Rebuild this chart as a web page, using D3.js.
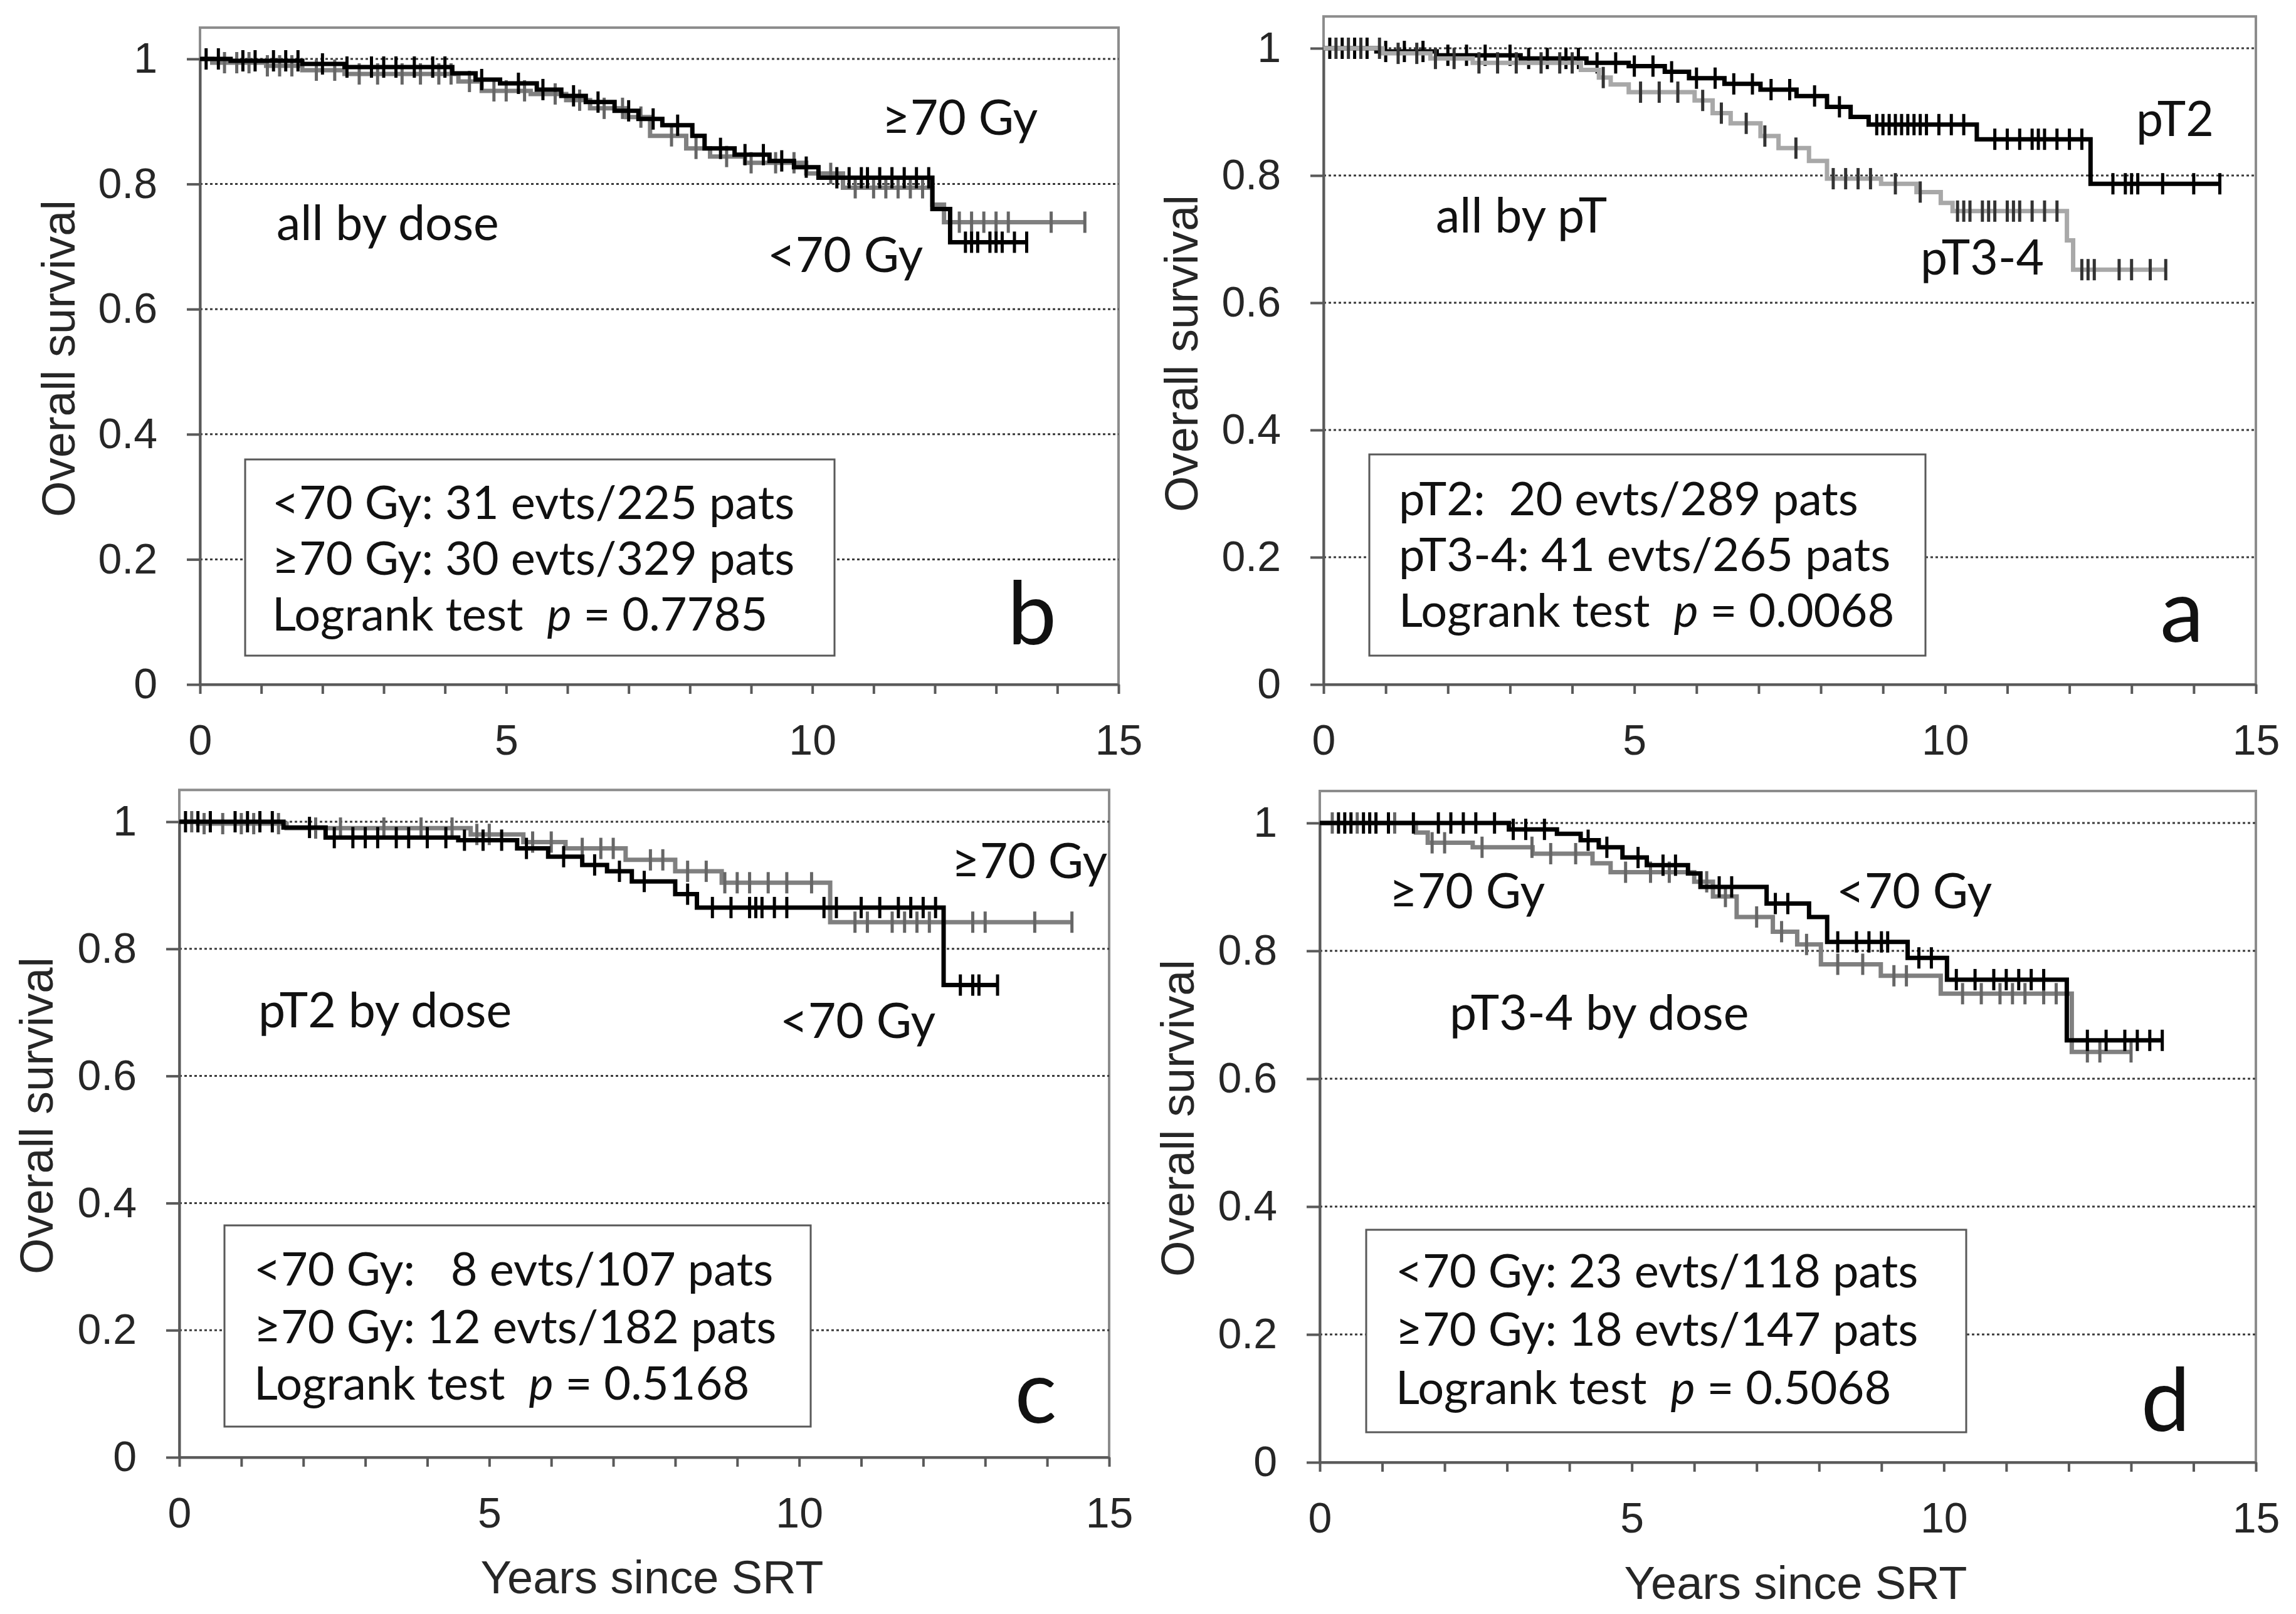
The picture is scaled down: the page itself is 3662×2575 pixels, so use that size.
<!DOCTYPE html>
<html>
<head>
<meta charset="utf-8">
<script src="https://cdn.jsdelivr.net/npm/d3@7"></script>
<style>
  body { margin: 0; background: #fff; }
  text { white-space: pre; }
</style>
</head>
<body>
<script>
// ---- data ----
const xTicks = d3.range(0, 16);
const xLabels = [0, 5, 10, 15];
const yTicks = [0, 0.2, 0.4, 0.6, 0.8, 1];

// panel b: all patients by dose
const bLowSteps = [[0,1],[0.5,0.997],[1.67,0.992],[2.36,0.987],[4.12,0.977],[4.5,0.967],[4.9,0.961],[5.5,0.951],[5.9,0.941],[6.3,0.931],[6.77,0.917],[7.16,0.904],[7.55,0.894],[8.04,0.877],[8.24,0.857],[8.73,0.847],[9.3,0.837],[9.7,0.827],[10.1,0.81],[11.96,0.76],[12.25,0.707],[13.5,0.707]];
const bLowCens = [0.1,0.3,0.7,0.9,1.2,1.4,1.6,2.0,2.4,2.8,3.0,3.2,3.5,3.8,4.0,4.6,5.2,5.6,6.1,6.5,7.0,7.4,7.8,8.5,8.9,9.2,9.5,9.9,10.4,10.6,10.8,10.9,11.1,11.3,11.5,11.7,11.9,12.5,12.6,12.7,12.9,13.0,13.1,13.3,13.5];
const bHighSteps = [[0,1],[0.2,0.994],[1.08,0.989],[1.67,0.982],[2.36,0.976],[4.22,0.964],[4.6,0.949],[5.4,0.944],[5.98,0.934],[6.37,0.921],[6.96,0.907],[7.35,0.877],[7.94,0.857],[8.33,0.844],[8.9,0.834],[9.9,0.817],[10.5,0.794],[11.96,0.767],[12.15,0.739],[14.45,0.739]];
const bHighCens = [0.4,0.6,0.8,1.1,1.3,1.5,1.9,2.2,2.6,2.9,3.3,3.6,3.9,4.1,4.4,4.8,5.0,5.3,5.8,6.2,6.6,6.9,7.2,7.7,8.1,8.6,9.0,9.4,9.7,10.3,10.7,11.0,11.2,11.4,11.6,11.8,12.4,12.6,12.8,13.0,13.2,13.9,14.45];

// panel a: all patients by pT
const aT2Steps = [[0,1],[0.85,0.995],[1.82,0.989],[3.17,0.984],[4.23,0.977],[4.91,0.972],[5.49,0.963],[5.88,0.953],[6.45,0.944],[7.03,0.935],[7.61,0.925],[8.1,0.908],[8.48,0.892],[8.77,0.88],[10.51,0.857],[12.34,0.787],[14.42,0.787]];
const aT2Cens = [0.1,0.3,0.5,0.7,1.0,1.3,1.6,2.0,2.3,2.6,3.0,3.3,3.6,3.9,4.1,4.4,4.7,5.0,5.3,5.6,6.0,6.3,6.6,6.9,7.2,7.5,7.9,8.3,8.9,9.0,9.1,9.2,9.3,9.4,9.5,9.6,9.7,9.9,10.1,10.3,10.8,11.0,11.2,11.4,11.5,11.6,11.8,12.0,12.2,12.7,12.9,13.0,13.1,13.5,14.0,14.42];
const aT34Steps = [[0,1],[0.95,0.992],[1.72,0.984],[2.4,0.977],[4.14,0.966],[4.43,0.954],[4.62,0.943],[4.91,0.931],[5.97,0.918],[6.26,0.898],[6.55,0.882],[7.03,0.862],[7.32,0.843],[7.81,0.823],[8.1,0.795],[8.97,0.787],[9.54,0.774],[9.93,0.757],[10.12,0.744],[11.96,0.698],[12.06,0.652],[13.55,0.652]];
const aT34Cens = [0.2,0.4,0.6,0.9,1.2,1.5,1.8,2.1,2.5,2.8,3.1,3.5,3.8,4.0,4.5,5.1,5.4,5.7,6.1,6.4,6.8,7.1,7.6,8.2,8.4,8.6,8.8,9.2,9.6,10.2,10.3,10.4,10.6,10.7,10.8,11.0,11.1,11.2,11.4,11.6,11.8,12.2,12.3,12.4,12.8,13.0,13.3,13.55];

// panel c: pT2 by dose
const cLowSteps = [[0,1],[1.68,0.991],[2.36,0.975],[4.5,0.971],[5.45,0.958],[5.95,0.945],[6.5,0.932],[6.9,0.922],[7.3,0.906],[8.0,0.886],[8.35,0.865],[12.33,0.743],[13.2,0.743]];
const cLowCens = [0.1,0.3,0.5,0.9,1.1,1.3,1.5,2.1,2.5,2.8,3.0,3.2,3.5,3.7,4.0,4.3,4.6,4.9,5.2,5.6,6.2,6.7,7.1,7.5,8.2,8.6,8.9,9.2,9.3,9.4,9.6,9.8,10.4,10.6,11.0,11.3,11.6,11.8,12.0,12.2,12.6,12.8,12.9,13.2];
const cHighSteps = [[0,1],[0.3,0.997],[1.73,0.99],[4.7,0.98],[5.55,0.968],[6.23,0.958],[7.2,0.94],[8.0,0.922],[8.75,0.904],[10.5,0.842],[14.4,0.842]];
const cHighCens = [0.2,0.4,0.7,1.0,1.2,1.6,2.2,2.6,3.3,3.9,4.4,4.8,5.0,5.7,6.0,6.5,6.8,7.0,7.6,7.8,8.2,8.5,8.8,9.0,9.2,9.5,9.8,10.2,10.9,11.1,11.5,11.7,11.9,12.1,12.8,13.0,13.8,14.4];

// panel d: pT3-4 by dose
const dLowSteps = [[0,1],[3.03,0.99],[3.8,0.983],[4.18,0.973],[4.47,0.962],[4.85,0.946],[5.24,0.934],[5.9,0.921],[6.1,0.9],[7.16,0.874],[7.84,0.853],[8.13,0.814],[9.42,0.789],[10.05,0.755],[11.97,0.66],[13.5,0.66]];
const dLowCens = [0.3,0.4,0.5,0.7,0.8,0.9,1.1,1.5,1.9,2.1,2.3,2.5,2.8,3.1,3.3,3.6,4.3,4.6,5.1,5.5,5.7,6.4,6.6,7.3,7.5,8.3,8.6,8.8,9.0,9.1,9.6,9.8,10.2,10.5,10.8,11.0,11.2,11.4,11.6,12.3,12.6,12.9,13.1,13.3,13.5];
const dHighSteps = [[0,1],[1.54,0.985],[1.73,0.969],[2.45,0.962],[3.41,0.952],[4.37,0.937],[4.66,0.923],[6.0,0.908],[6.3,0.885],[6.68,0.853],[7.26,0.83],[7.65,0.81],[8.03,0.779],[8.99,0.761],[9.95,0.733],[12.05,0.642],[13.0,0.642]];
const dHighCens = [0.2,0.6,1.2,1.8,2.0,2.6,3.4,3.7,4.1,4.9,5.3,5.6,6.2,6.5,7.0,7.4,7.8,8.3,8.7,9.2,9.4,10.3,10.6,10.9,11.1,11.3,11.6,11.8,12.3,12.5,13.0];

// legend texts: two count lines and the logrank p value
const bLegend = ["<70 Gy: 31 evts/225 pats", "\u226570 Gy: 30 evts/329 pats", "0.7785"];
const aLegend = ["pT2:  20 evts/289 pats", "pT3-4: 41 evts/265 pats", "0.0068"];
const cLegend = ["<70 Gy:   8 evts/107 pats", "\u226570 Gy: 12 evts/182 pats", "0.5168"];
const dLegend = ["<70 Gy: 23 evts/118 pats", "\u226570 Gy: 18 evts/147 pats", "0.5068"];

// ---- layout (pixels) ----
const W = 3662, H = 2575;
const BLACK = "#000", GRAY = "#808080", LIGHT = "#a8a8a8";

const panels = [
  { letter: "b", x0: 319, x15: 1784, yZero: 1092, yOne: 94, xTitle: false,
    yTitle: [93, 572],
    series: [
      { steps: bHighSteps, cens: bHighCens, color: GRAY, mark: "#666" },
      { steps: bLowSteps, cens: bLowCens, color: BLACK, mark: BLACK } ],
    notes: [["\u226570 Gy", 1407, 215], ["<70 Gy", 1224, 434], ["all by dose", 441, 383]],
    legend: bLegend, box: [391, 733, 940, 313], tx: 434, base: [828, 917, 1006],
    letterPos: [1646, 1028] },
  { letter: "a", x0: 2111, x15: 3598, yZero: 1092, yOne: 77, xTitle: false,
    yTitle: [1884, 564],
    series: [
      { steps: aT2Steps, cens: aT2Cens, color: BLACK, mark: BLACK },
      { steps: aT34Steps, cens: aT34Cens, color: LIGHT, mark: "#333" } ],
    notes: [["pT2", 3407, 217], ["pT3-4", 3063, 438], ["all by pT", 2290, 371]],
    legend: aLegend, box: [2184, 725, 887, 321], tx: 2231, base: [822, 911, 1000],
    letterPos: [3480, 1024] },
  { letter: "c", x0: 286, x15: 1769, yZero: 2325, yOne: 1311, xTitle: [1040, 2516],
    yTitle: [58, 1780],
    series: [
      { steps: cHighSteps, cens: cHighCens, color: GRAY, mark: "#666" },
      { steps: cLowSteps, cens: cLowCens, color: BLACK, mark: BLACK } ],
    notes: [["pT2 by dose", 412, 1639], ["\u226570 Gy", 1518, 1401], ["<70 Gy", 1244, 1656]],
    legend: cLegend, box: [358, 1955, 935, 321], tx: 405, base: [2051, 2143, 2233],
    letterPos: [1652, 2270] },
  { letter: "d", x0: 2105, x15: 3598, yZero: 2333, yOne: 1313, xTitle: [2864, 2525],
    yTitle: [1878, 1784],
    series: [
      { steps: dHighSteps, cens: dHighCens, color: GRAY, mark: "#666" },
      { steps: dLowSteps, cens: dLowCens, color: BLACK, mark: BLACK } ],
    notes: [["pT3-4 by dose", 2312, 1643], ["\u226570 Gy", 2216, 1449], ["<70 Gy", 2929, 1449]],
    legend: dLegend, box: [2179, 1962, 957, 323], tx: 2226, base: [2054, 2147, 2240],
    letterPos: [3454, 2283] }
];

const AXIS_FONT = "'Liberation Sans', Arial, sans-serif";
const NOTE_FONT = "Lato, 'Open Sans', sans-serif";

const svg = d3.select("body").append("svg")
  .attr("width", W).attr("height", H)
  .style("background", "#fff");

// survival value of a step curve at time t (for placing censor ticks)
const stepValue = (steps, t) => {
  let v = steps[0][1];
  for (const s of steps) { if (s[0] <= t) v = s[1]; }
  return v;
};

panels.forEach(p => {
  const x = d3.scaleLinear().domain([0, 15]).range([p.x0, p.x15]);
  const y = d3.scaleLinear().domain([0, 1]).range([p.yZero, p.yOne]);
  const g = svg.append("g");

  // plot frame
  g.append("rect")
    .attr("x", x(0)).attr("y", y(1.05))
    .attr("width", x(15) - x(0)).attr("height", y(0) - y(1.05))
    .attr("fill", "none").attr("stroke", "#8c8c8c").attr("stroke-width", 4);

  // dotted gridlines
  g.selectAll(".grid").data(yTicks.filter(d => d > 0)).join("line")
    .attr("x1", x(0)).attr("x2", x(15))
    .attr("y1", d => y(d)).attr("y2", d => y(d))
    .attr("stroke", "#3a3a3a").attr("stroke-width", 3)
    .attr("stroke-dasharray", "4,4");

  // axes
  const xa = g.append("g")
    .attr("transform", "translate(0," + y(0) + ")")
    .call(d3.axisBottom(x).tickValues(xTicks).tickSizeInner(15).tickSizeOuter(0)
      .tickPadding(49).tickFormat(d => xLabels.includes(d) ? d : ""));
  const ya = g.append("g")
    .attr("transform", "translate(" + x(0) + ",0)")
    .call(d3.axisLeft(y).tickValues(yTicks).tickSizeInner(21).tickSizeOuter(0)
      .tickPadding(47).tickFormat(d => String(d)));
  [xa, ya].forEach(a => {
    a.select(".domain").attr("stroke", "#595959").attr("stroke-width", 4);
    a.selectAll(".tick line").attr("stroke", "#595959").attr("stroke-width", 4);
    a.selectAll(".tick text")
      .attr("font-family", AXIS_FONT).attr("font-size", 68).attr("fill", "#262626");
  });

  // axis titles
  g.append("text")
    .attr("transform", "translate(" + p.yTitle[0] + "," + p.yTitle[1] + ") rotate(-90)")
    .attr("text-anchor", "middle").attr("dy", "0.35em")
    .attr("font-family", AXIS_FONT).attr("font-size", 74).attr("fill", "#262626")
    .text("Overall survival");
  if (p.xTitle) {
    g.append("text")
      .attr("x", p.xTitle[0]).attr("y", p.xTitle[1])
      .attr("text-anchor", "middle").attr("dy", "0.35em")
      .attr("font-family", AXIS_FONT).attr("font-size", 74).attr("fill", "#262626")
      .text("Years since SRT");
  }

  // legend box
  g.append("rect")
    .attr("x", p.box[0]).attr("y", p.box[1])
    .attr("width", p.box[2]).attr("height", p.box[3])
    .attr("fill", "#fff").attr("stroke", "#595959").attr("stroke-width", 3);
  [p.legend[0], p.legend[1]].forEach((s, i) => {
    g.append("text")
      .attr("x", p.tx).attr("y", p.base[i])
      .attr("xml:space", "preserve")
      .attr("font-family", NOTE_FONT).attr("font-size", 74).attr("fill", "#111")
      .text(s);
  });
  const lr = g.append("text")
    .attr("x", p.tx).attr("y", p.base[2])
    .attr("xml:space", "preserve")
    .attr("font-family", NOTE_FONT).attr("font-size", 74).attr("fill", "#111");
  lr.append("tspan").text("Logrank test  ");
  lr.append("tspan").attr("font-style", "italic").text("p");
  lr.append("tspan").text(" = " + p.legend[2]);

  // survival curves with censor ticks
  const line = d3.line().x(d => x(d[0])).y(d => y(d[1])).curve(d3.curveStepAfter);
  p.series.forEach(s => {
    g.append("path").datum(s.steps)
      .attr("fill", "none").attr("stroke", s.color)
      .attr("stroke-width", 7).attr("d", line);
    g.selectAll(null).data(s.cens).join("line")
      .attr("x1", d => x(d)).attr("x2", d => x(d))
      .attr("y1", d => y(stepValue(s.steps, d)) - 17)
      .attr("y2", d => y(stepValue(s.steps, d)) + 17)
      .attr("stroke", s.mark).attr("stroke-width", 5);
  });

  // curve labels
  p.notes.forEach(n => {
    g.append("text")
      .attr("x", n[1]).attr("y", n[2])
      .attr("font-family", NOTE_FONT).attr("font-size", 77).attr("fill", "#111")
      .text(n[0]);
  });

  // panel letter
  g.append("text")
    .attr("x", p.letterPos[0]).attr("y", p.letterPos[1])
    .attr("text-anchor", "middle")
    .attr("font-family", NOTE_FONT).attr("font-size", 140).attr("fill", "#111")
    .text(p.letter);
});
</script>
</body>
</html>
